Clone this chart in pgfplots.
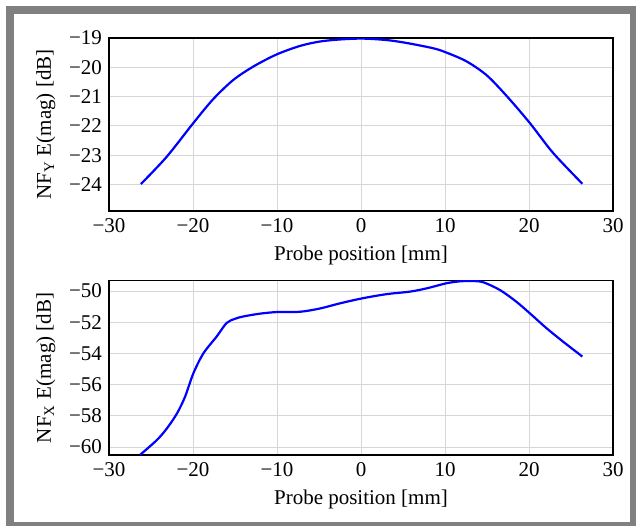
\documentclass[border=0pt]{standalone}
\usepackage{fontspec}
\setmainfont{Liberation Serif}
\usepackage{pgfplots}
\pgfplotsset{compat=1.18}
\begin{document}
\begin{tikzpicture}
\useasboundingbox (0pt,0pt) rectangle (318pt,-262.5pt);
\draw[line width=4pt, color={rgb,255:red,128;green,128;blue,128}] (5pt,-5pt) rectangle (317pt,-262.75pt);
\pgfplotsset{
  myax/.style={
    scale only axis, width=252pt,
    xmin=-30, xmax=30,
    xtick={-30,-20,-10,0,10,20,30},
    xticklabels={−30,−20,−10,0,10,20,30},
    grid=major,
    major grid style={color={rgb,255:red,215;green,215;blue,215}, line width=0.5pt},
    axis line style={line width=0.6pt},
    tick style={draw=none},
    xlabel={Probe position [mm]},
    tick label style={font=\fontsize{10.5}{12.5}\selectfont},
    label style={font=\fontsize{10.5}{12.5}\selectfont},
    every axis plot/.append style={blue, line width=1.1pt, no markers},
    clip=true,
  }
}
\begin{axis}[myax, at={(54.5pt,-105.5pt)}, anchor=south west, height=86.5pt,
  ymin=-24.9, ymax=-19,
  ytick={-24,-23,-22,-21,-20,-19},
  yticklabels={−24,−23,−22,−21,−20,−19},
  ylabel={NF\textsubscript{Y} E(mag) [dB]}]
\addplot+[smooth] coordinates {
(-26.2,-23.98) (-23.13,-23.05) (-19.96,-21.9) (-17.58,-21.08) (-15.2,-20.43)
(-12.8,-19.97) (-10.04,-19.56) (-7.26,-19.27) (-4.9,-19.12) (-2.5,-19.05) (0.15,-19.02)
(3.06,-19.07) (5.44,-19.17) (8.6,-19.35) (10.2,-19.5) (12.58,-19.8)
(14.96,-20.27) (17.35,-20.98) (20.1,-21.9) (22.87,-22.92) (26.35,-23.97)
};
\end{axis}
\begin{axis}[myax, at={(54.5pt,-227.5pt)}, anchor=south west, height=87.15pt,
  ymin=-60.51, ymax=-49.34,
  ytick={-60,-58,-56,-54,-52,-50},
  yticklabels={−60,−58,−56,−54,−52,−50},
  ylabel={NF\textsubscript{X} E(mag) [dB]}]
\addplot+[smooth] coordinates {
(-26.3,-60.5) (-24.3,-59.55) (-23.1,-58.8) (-21.9,-57.84) (-20.95,-56.78)
(-19.96,-55.28) (-18.77,-54.0) (-17.2,-52.93) (-16.0,-52.05) (-15.0,-51.78) (-14.0,-51.63)
(-12.0,-51.45) (-10.04,-51.35) (-7.26,-51.33) (-4.88,-51.12) (-2.5,-50.79)
(0.15,-50.47) (3.06,-50.2) (5.83,-50.04) (7.82,-49.83) (10.2,-49.5)
(11.8,-49.38) (13.3,-49.36) (14.56,-49.44) (16.55,-49.94) (18.5,-50.69)
(20.1,-51.43) (22.1,-52.39) (24.07,-53.25) (26.35,-54.2)
};
\end{axis}
\end{tikzpicture}
\end{document}
